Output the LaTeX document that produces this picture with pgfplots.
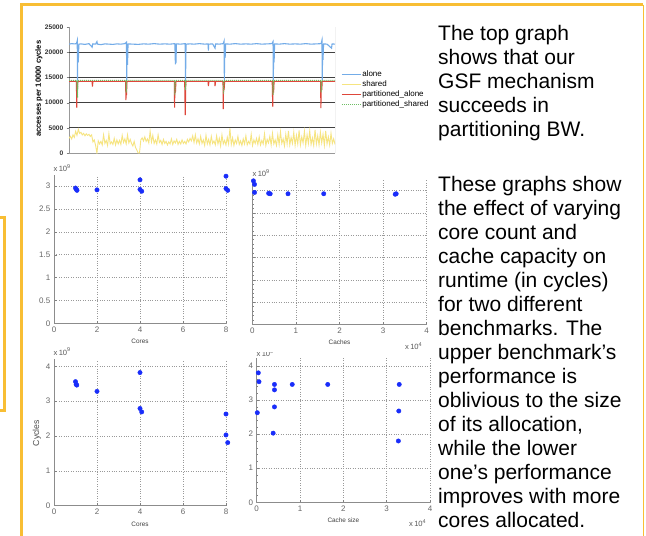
\documentclass[border=0pt]{standalone}
\usepackage{pgfplots}
\pgfplotsset{compat=1.18}
\usepackage{fontspec}
\setmainfont{Liberation Sans}
\definecolor{frameor}{RGB}{248,190,52}
\definecolor{aloneC}{RGB}{115,172,232}
\definecolor{sharedC}{RGB}{246,228,128}
\definecolor{palC}{RGB}{222,70,58}
\definecolor{pshC}{RGB}{110,190,100}
\definecolor{dotC}{RGB}{25,45,250}
\newcommand{\xten}[1]{x\,10\raisebox{0.8ex}{\fontsize{5.5}{6}\selectfont #1}}
\pgfplotsset{
  /pgf/number format/assume math mode=true,
  matlab/.style={
    scale only axis, anchor=south west,
    axis lines*=left, axis line style={black!45, line width=0.9pt},
    tick align=inside, major tick length=2.5pt, minor tick length=1.3pt,
    tick style={black!50, line width=0.5pt},
    grid=major, major grid style={black!40, dotted, line width=0.6pt},
    tick label style={font=\fontsize{8}{9}\selectfont, text=black!60},
    xticklabel style={anchor=north, inner sep=0pt, yshift=-3.5pt},
    yticklabel style={anchor=east, inner sep=0pt, xshift=-3.5pt},
    xlabel style={font=\fontsize{6.4}{7}\selectfont, text=black!75, at={(axis description cs:0.5,0)}, anchor=center},
    clip=false, scaled ticks=false,
    minor y tick num=4,
  }
}
\begin{document}
\begin{tikzpicture}
\path[use as bounding box, fill=white] (0pt,0pt) rectangle (646pt,-536pt);
% frames
\draw[frameor, line width=3pt] (21pt,-536pt) -- (21pt,-4.5pt) -- (643pt,-4.5pt);
\draw[frameor, line width=1pt] (643pt,-4.5pt) -- (643pt,-536pt);
\draw[frameor, line width=3pt, line join=miter] (0pt,-217pt) -- (4.5pt,-217pt) -- (4.5pt,-410pt) -- (0pt,-410pt);

% ---------- top graph ----------
\begin{axis}[
  at={(69pt,-153pt)}, anchor=south west, scale only axis,
  width=266pt, height=126pt,
  xmin=0, xmax=1000, ymin=0, ymax=25000,
  axis lines*=left, axis line style={black!40, line width=0.8pt},
  xtick=\empty, ytick={0,5000,10000,15000,20000,25000},
  scaled y ticks=false,
  /pgf/number format/fixed, /pgf/number format/precision=0,
  /pgf/number format/set thousands separator={},
  yticklabel style={font=\bfseries\fontsize{6.6}{7}\selectfont, text=black!80, anchor=east, inner sep=0pt, xshift=-3pt},
  tick align=outside, major tick length=2.5pt, tick style={black!50},
  extra y ticks={5000,10000,15000,20000}, extra y tick labels={},
  extra y tick style={grid=major, major grid style={black!75, line width=0.9pt}, major tick length=0pt},
  ylabel={accesses per 10000 cycles},
  ylabel style={font=\bfseries\fontsize{7.6}{8}\selectfont, at={(axis description cs:-0.113,0.51)}, anchor=center},
  legend style={at={(axis description cs:1.0226,0.6667)}, anchor=north west, draw=none, fill=none,
     inner sep=0pt, row sep=0pt, font=\fontsize{8}{9}\selectfont,
     nodes={inner xsep=1pt, inner ysep=0pt, text height=7pt, text depth=3pt}},
  legend cell align=left,
  legend image code/.code={\draw[#1] (0pt,0pt) -- (19pt,0pt);},
]
\addplot[aloneC, line width=1.1pt] table {
0 21600
10 21700
20 21650
28 21700
31 22300
32 14400
33 21500
35 18000
37 21600
45 21650
60 21550
75 21700
87 21000
89 21650
100 21600
105 22100
107 21600
120 21500
135 21650
150 21600
165 21550
180 21650
195 21600
210 21700
216 22000
217 14500
219 21600
220 17500
222 21650
240 21600
260 21550
280 21650
300 21600
320 21700
340 21600
360 21650
380 21600
398 21700
400 17600
401 21600
402 17800
404 21650
420 21600
437 21700
438 14000
440 21600
455 21650
470 21600
490 21700
510 21600
523 21650
524 20300
525 21600
540 21650
549 20800
551 21650
565 21600
580 21700
583 22200
584 14500
586 21600
587 18900
589 21650
605 21600
625 21700
645 21600
665 21650
685 21600
705 21700
725 21600
745 21650
763 21700
767 22100
768 14500
770 21600
771 18000
773 21650
790 21600
810 21700
830 21600
850 21650
870 21600
890 21700
910 21600
930 21650
948 21700
951 22400
952 14500
954 21600
955 18500
957 21650
970 21600
987 20800
989 21650
1000 21600
};
\addplot[sharedC, line width=0.9pt] table {
0 2900
5 3300
10 2800
15 3600
20 3100
25 4300
30 3500
35 4700
40 3900
45 4100
50 3600
55 3900
60 3400
65 3800
70 3500
75 3700
80 3300
85 3600
90 2200
95 2600
100 1500
105 0
110 2400
115 1800
120 2300
125 1600
130 3600
135 1900
140 2500
145 1500
150 3800
155 1800
160 2200
165 1700
170 2900
175 1600
180 2600
185 1800
190 2500
195 1700
200 3500
205 2100
210 2800
215 1800
220 3600
225 2000
230 2700
235 1900
240 1400
245 2300
250 1100
255 600
260 0
265 0
270 2600
275 3000
280 2400
285 3200
290 2300
295 2800
300 2000
305 4300
310 2200
315 3500
320 1900
325 2600
330 1800
335 3600
340 2100
345 2500
350 1700
355 2700
360 1900
365 2300
370 1600
375 2200
380 1800
385 2800
390 1700
395 2400
400 2000
405 2700
410 1700
415 2300
420 1800
425 2600
430 1900
435 2300
440 1800
445 2700
450 2200
455 2900
460 2400
465 3400
470 2100
475 3600
480 2000
485 2800
490 1800
495 3300
500 1900
505 2600
510 1500
515 3500
520 1800
525 2700
530 1600
535 3300
540 1900
545 2400
550 1600
555 3400
560 1800
565 2900
570 1400
575 3600
580 1800
585 2500
590 1600
595 3100
600 1800
605 4900
610 1700
615 3000
620 1500
625 2600
630 1900
635 3300
640 1700
645 2400
650 1500
655 2800
660 1800
665 3400
670 1600
675 2300
680 1800
685 3700
690 1500
695 2600
700 1900
705 2900
710 1700
715 3200
720 1600
725 2500
730 1800
735 3800
740 1500
745 2700
750 2000
755 3300
760 1600
765 3900
770 1800
775 2600
780 1500
785 3600
790 1700
795 4200
800 1900
805 2800
810 1400
815 3700
820 1800
825 4400
830 1600
835 3100
840 1900
845 4100
850 1500
855 3500
860 1800
865 4500
870 1600
875 3200
880 2000
885 4300
890 1500
895 3600
900 1900
905 4400
910 1700
915 3000
920 1500
925 4600
930 1800
935 3400
940 1600
945 4100
950 2000
955 3700
960 1500
965 4400
970 1800
975 3200
980 1600
985 3900
990 1900
995 2800
1000 1700
};
\addplot[palC, line width=1.1pt] table {
0 14200
28 14200
29 9000
30 14100
31 12000
33 14200
87 14200
88 13200
90 14200
213 14200
214 10500
215 14000
216 11500
218 14200
396 14200
397 9000
398 14100
400 12000
402 14200
435 14200
437 7500
439 14200
523 14200
524 13300
526 14200
548 14200
549 13300
551 14200
579 14200
580 8700
581 14100
583 12500
585 14200
764 14200
766 9200
767 14100
769 12000
771 14200
946 14200
947 8900
948 14100
950 12500
952 14200
1000 14200
};
\addplot[pshC, densely dotted, line width=1pt] table {
0 14400
29 14400
30 12500
31 14300
32 11000
34 14400
214 14400
215 12000
217 14400
397 14400
398 11500
400 14400
437 14400
438 12500
440 14400
580 14400
581 11800
583 14400
766 14400
767 11500
769 14400
947 14400
948 12000
950 14400
1000 14400
};
\legend{alone,shared,partitioned\_alone,partitioned\_shared}
\draw[black!40, line width=0.8pt] (rel axis cs:1,0) -- (rel axis cs:1,1);
\end{axis}

% ---------- plot 1: cores (upper) ----------
\begin{axis}[matlab, at={(54pt,-323.3pt)}, width=172pt, height=148.5pt,
  xmin=0, xmax=8, ymin=0, ymax=3.25,
  xtick={0,2,4,6,8}, ytick={0,0.5,1,1.5,2,2.5,3},
  xlabel={Cores}, xlabel style={yshift=-18.4pt}]
\addplot[only marks, mark=*, mark size=2.2pt, dotC] coordinates {
(1,2.96) (1.04,2.93) (1.07,2.91) (2,2.92) (4,3.14) (4,2.93) (4.08,2.89) (8,3.22) (8,2.95) (8.08,2.91)};
\end{axis}

% ---------- plot 2: caches (upper) ----------
\begin{axis}[matlab, at={(252.3pt,-324.5pt)}, width=174.4pt, height=145pt,
  xmin=0, xmax=4, ymin=0, ymax=3.25,
  xtick={0,1,2,3,4}, ytick={0,0.5,1,1.5,2,2.5,3}, yticklabels={},
  xlabel={Caches}, xlabel style={yshift=-17.8pt}]
\addplot[only marks, mark=*, mark size=2.2pt, dotC] coordinates {
(0.0256,3.22) (0.0512,3.14) (0.0512,2.96) (0.375,2.94) (0.41,2.93) (0.8192,2.93) (1.6384,2.93) (3.2768,2.92) (3.30,2.93)};
\end{axis}

% ---------- plot 3: cores (lower) ----------
\begin{axis}[matlab, at={(54pt,-505.7pt)}, width=172pt, height=146.4pt,
  xmin=0, xmax=8, ymin=0, ymax=4.2,
  xtick={0,2,4,6,8}, ytick={0,1,2,3,4},
  xlabel={Cores}, xlabel style={yshift=-18.3pt},
  ylabel={Cycles}, ylabel style={font=\fontsize{8.7}{9}\selectfont, text=black!70, at={(axis description cs:-0.099,0.497)}, anchor=center}]
\addplot[only marks, mark=*, mark size=2.2pt, dotC] coordinates {
(1,3.56) (1.03,3.48) (1.06,3.46) (2,3.28) (4,3.82) (4,2.79) (4.08,2.69) (8,2.63) (8,2.03) (8.08,1.81)};
\end{axis}

% ---------- plot 4: cache size (lower) ----------
\begin{axis}[matlab, at={(256.7pt,-502.3pt)}, width=173.3pt, height=144.8pt,
  xmin=0, xmax=4, ymin=0, ymax=4.25,
  xtick={0,1,2,3,4}, ytick={0,1,2,3,4},
  xlabel={Cache size}, xlabel style={yshift=-17.7pt}]
\addplot[only marks, mark=*, mark size=2.2pt, dotC] coordinates {
(0.037,3.80) (0.053,3.54) (0.014,2.63) (0.41,3.46) (0.41,3.30) (0.41,2.80) (0.38,2.03) (0.82,3.46) (1.64,3.46) (3.29,3.46) (3.28,2.68) (3.27,1.80)};
\end{axis}

% exponent labels
\begin{scope}[every node/.style={font=\fontsize{7.6}{8}\selectfont, text=black!65, inner sep=0pt}]
\node[anchor=west] at (53.5pt,-168pt) {\xten{9}};
\node[anchor=west] at (252.5pt,-173.5pt) {\xten{9}};
\node[anchor=west] at (53.5pt,-351.7pt) {\xten{9}};
\node[anchor=west] at (256.5pt,-353pt) {\xten{9}};
\node[anchor=west] at (405pt,-346pt) {\xten{4}};
\node[anchor=west] at (409pt,-523.3pt) {\xten{4}};
\end{scope}
\fill[white] (254pt,-343pt) rectangle (285pt,-352.3pt);

% right text
\begin{scope}[every node/.style={anchor=base west, inner sep=0pt, font=\fontsize{21}{24}\selectfont}]
\node at (438pt,-40.5pt) {The top graph};
\node at (438pt,-64.5pt) {shows that our};
\node at (438pt,-88.5pt) {GSF mechanism};
\node at (438pt,-112.5pt) {succeeds in};
\node at (438pt,-136.5pt) {partitioning BW.};
\node at (438pt,-191.5pt) {These graphs show};
\node at (438pt,-215.5pt) {the effect of varying};
\node at (438pt,-239.5pt) {core count and};
\node at (438pt,-263.5pt) {cache capacity on};
\node at (438pt,-287.5pt) {runtime (in cycles)};
\node at (438pt,-311.5pt) {for two different};
\node at (438pt,-335.5pt) {benchmarks. The};
\node at (438pt,-359.5pt) {upper benchmark’s};
\node at (438pt,-383.5pt) {performance is};
\node at (438pt,-407.5pt) {oblivious to the size};
\node at (438pt,-431.5pt) {of its allocation,};
\node at (438pt,-455.5pt) {while the lower};
\node at (438pt,-479.5pt) {one’s performance};
\node at (438pt,-503.5pt) {improves with more};
\node at (438pt,-527.5pt) {cores allocated.};
\end{scope}
\end{tikzpicture}
\end{document}
